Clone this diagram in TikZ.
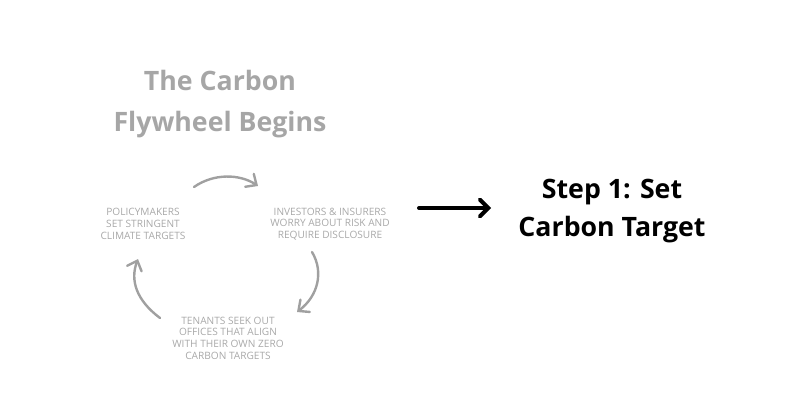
\documentclass[tikz,border=0pt]{standalone}
\usepackage{fontspec}
\setmainfont{Open Sans}
\usetikzlibrary{arrows.meta}

\definecolor{titlegray}{HTML}{A6A6A6}
\definecolor{labelgray}{HTML}{A8A8A8}
\definecolor{arcgray}{HTML}{A0A0A0}

\begin{document}
\begin{tikzpicture}[x=0.025cm,y=-0.025cm,
  title/.style={text=titlegray,font=\bfseries\fontsize{19}{29}\selectfont,align=center},
  steplabel/.style={text=black,font=\bfseries\fontsize{19}{27}\selectfont,align=center},
  cyclabel/.style={text=labelgray,font=\fontsize{7.2}{8.3}\selectfont,align=center},
  cyc/.style={draw=arcgray,line width=1.7pt,line cap=round,
    -{Straight Barb[length=6pt,width=11pt,line cap=round]}},
  go/.style={draw=black,line width=2.8pt,line cap=round,
    -{Straight Barb[length=6pt,width=12pt,line cap=round]}}]
\useasboundingbox (0,0) rectangle (800,400);
% ================= title =================
\node[title] (head) at (220,104) {The Carbon\\Flywheel Begins};
% ================= cycle =================
\node[cyclabel] (policy) at (143,224) {POLICYMAKERS\\SET STRINGENT\\CLIMATE TARGETS};
\node[cyclabel] (invest) at (330,224) {INVESTORS \& INSURERS\\WORRY ABOUT RISK AND\\REQUIRE DISCLOSURE};
\node[cyclabel] (tenant) at (228,338) {TENANTS SEEK OUT\\OFFICES THAT ALIGN\\WITH THEIR OWN ZERO\\CARBON TARGETS};
% arc ends
\coordinate (topA) at (194,187);
\coordinate (topB) at (258,186);
\coordinate (rgtA) at (312,252);
\coordinate (rgtB) at (297,312);
\coordinate (lftA) at (160,318);
\coordinate (lftB) at (138,259);
\draw[cyc] (topA) .. controls (214,173) and (240,174) .. (topB);
\draw[cyc] (rgtA) .. controls (324,272) and (318,296) .. (rgtB);
\draw[cyc] (lftA) .. controls (136,300) and (130,280) .. (lftB);
% ================= step =================
\node[steplabel] (step) at (612,211) {Step 1: Set\\Carbon Target};
\coordinate (goA) at (419,208);
\coordinate (goB) at (491,208);
\draw[go] (goA) -- (goB);
\end{tikzpicture}
\end{document}
